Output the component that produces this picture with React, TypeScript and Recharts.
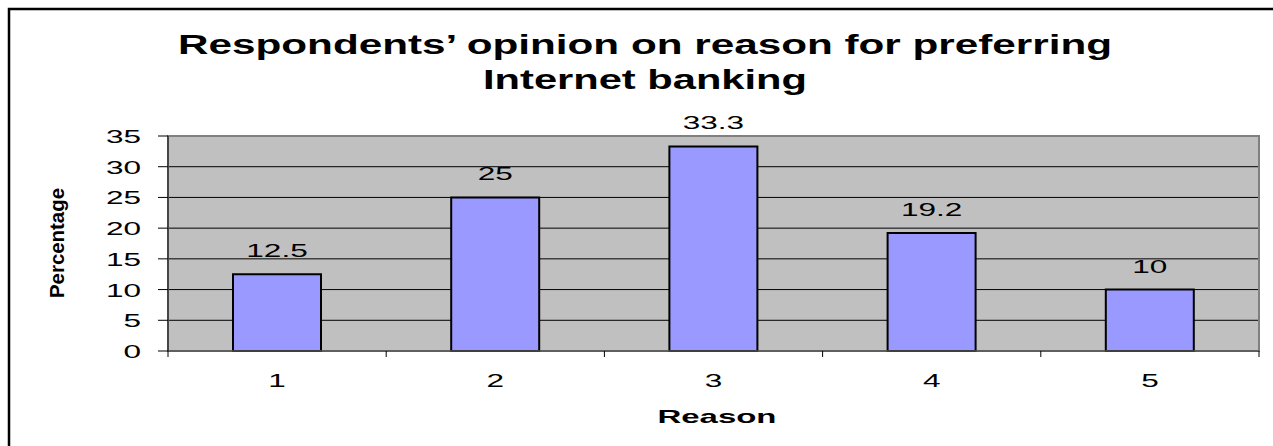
import { BarChart, Bar, XAxis, YAxis, CartesianGrid, LabelList, ReferenceArea } from "recharts";

const reasons = ["1", "2", "3", "4", "5"];
const percentages = [12.5, 25, 33.3, 19.2, 10];
const yTicks = [0, 5, 10, 15, 20, 25, 30, 35];

const W = 1273;
const H = 446;
const M = { top: 136, right: 14, bottom: 55, left: 108 };
const Y_AXIS_W = 60;
const X_AXIS_H = 40;
const PLOT_LEFT = M.left + Y_AXIS_W;
const PLOT_W = W - PLOT_LEFT - M.right;
const BAND = PLOT_W / reasons.length;

const FONT = "'Liberation Sans', Arial, Helvetica, sans-serif";
// the original picture is stretched sideways, so the glyphs are too
const STRETCH = 1.66;

const data = reasons.map((r, i) => ({ reason: r, pct: percentages[i] }));

// eslint-disable-next-line @typescript-eslint/no-explicit-any
function YTick({ x, y, payload }: any) {
  return (
    <g transform={`translate(${x},${y}) scale(${STRETCH},1)`}>
      <text x={0} y={0} dy={7} textAnchor="end" fontSize={19} fontFamily={FONT} fill="#000">
        {payload.value}
      </text>
    </g>
  );
}

// eslint-disable-next-line @typescript-eslint/no-explicit-any
function XTick({ x, y, payload, index }: any) {
  const half = BAND / 2;
  return (
    <g>
      <line x1={x - half} x2={x - half} y1={y - 6} y2={y} stroke="#000" strokeWidth={1} />
      {index === reasons.length - 1 && (
        <line x1={x + half} x2={x + half} y1={y - 6} y2={y} stroke="#000" strokeWidth={1} />
      )}
      <g transform={`translate(${x},${y + 30}) scale(${STRETCH},1)`}>
        <text x={0} y={0} textAnchor="middle" fontSize={19} fontFamily={FONT} fill="#000">
          {payload.value}
        </text>
      </g>
    </g>
  );
}

// eslint-disable-next-line @typescript-eslint/no-explicit-any
function ValueLabel({ x, y, width, value }: any) {
  return (
    <g transform={`translate(${x + width / 2},${y - 17}) scale(${STRETCH},1)`}>
      <text x={0} y={0} textAnchor="middle" fontSize={19} fontFamily={FONT} fill="#000">
        {value}
      </text>
    </g>
  );
}

export default function App() {
  return (
    <div style={{ position: "absolute", left: 0, top: 0, width: W, height: H, background: "#fff", overflow: "hidden" }}>
      <BarChart width={W} height={H} data={data} margin={M}>
        <CartesianGrid
          vertical={false}
          stroke="#000"
          strokeWidth={1}
          fill="#C0C0C0"
          fillOpacity={1}
        />
        <ReferenceArea y1={0} y2={35} fill="none" stroke="#808080" strokeWidth={2} ifOverflow="visible" />
        <XAxis
          dataKey="reason"
          height={X_AXIS_H}
          tickLine={false}
          tickSize={6}
          tickMargin={0}
          axisLine={{ stroke: "#555", strokeWidth: 1.5 }}
          tick={<XTick />}
          interval={0}
        />
        <YAxis
          width={Y_AXIS_W}
          domain={[0, 35]}
          ticks={yTicks}
          tickSize={10}
          tickMargin={17}
          tickLine={{ stroke: "#000" }}
          axisLine={{ stroke: "#333", strokeWidth: 1.5 }}
          tick={<YTick />}
          interval={0}
        />
        <Bar
          dataKey="pct"
          fill="#9999FF"
          stroke="#000"
          strokeWidth={2}
          barSize={88}
          isAnimationActive={false}
        >
          <LabelList dataKey="pct" content={<ValueLabel />} />
        </Bar>
      </BarChart>

      <svg
        width={W}
        height={H}
        style={{ position: "absolute", left: 0, top: 0, pointerEvents: "none" }}
      >
        <rect x={9} y={9} width={1400} height={600} fill="none" stroke="#000" strokeWidth={2.5} />
        <g fontFamily={FONT} fontWeight="bold" fill="#000">
          <text x={645} y={54} fontSize={27} textAnchor="middle" textLength={934} lengthAdjust="spacingAndGlyphs">
            Respondents’ opinion on reason for preferring
          </text>
          <text x={645} y={89} fontSize={27} textAnchor="middle" textLength={324} lengthAdjust="spacingAndGlyphs">
            Internet banking
          </text>
          <text x={717} y={423} fontSize={19} textAnchor="middle" textLength={119} lengthAdjust="spacingAndGlyphs">
            Reason
          </text>
          <text
            x={0}
            y={0}
            dy="0.35em"
            fontSize={21}
            textAnchor="middle"
            textLength={110}
            lengthAdjust="spacingAndGlyphs"
            transform="translate(57,243) rotate(-90)"
          >
            Percentage
          </text>
        </g>
      </svg>
    </div>
  );
}
